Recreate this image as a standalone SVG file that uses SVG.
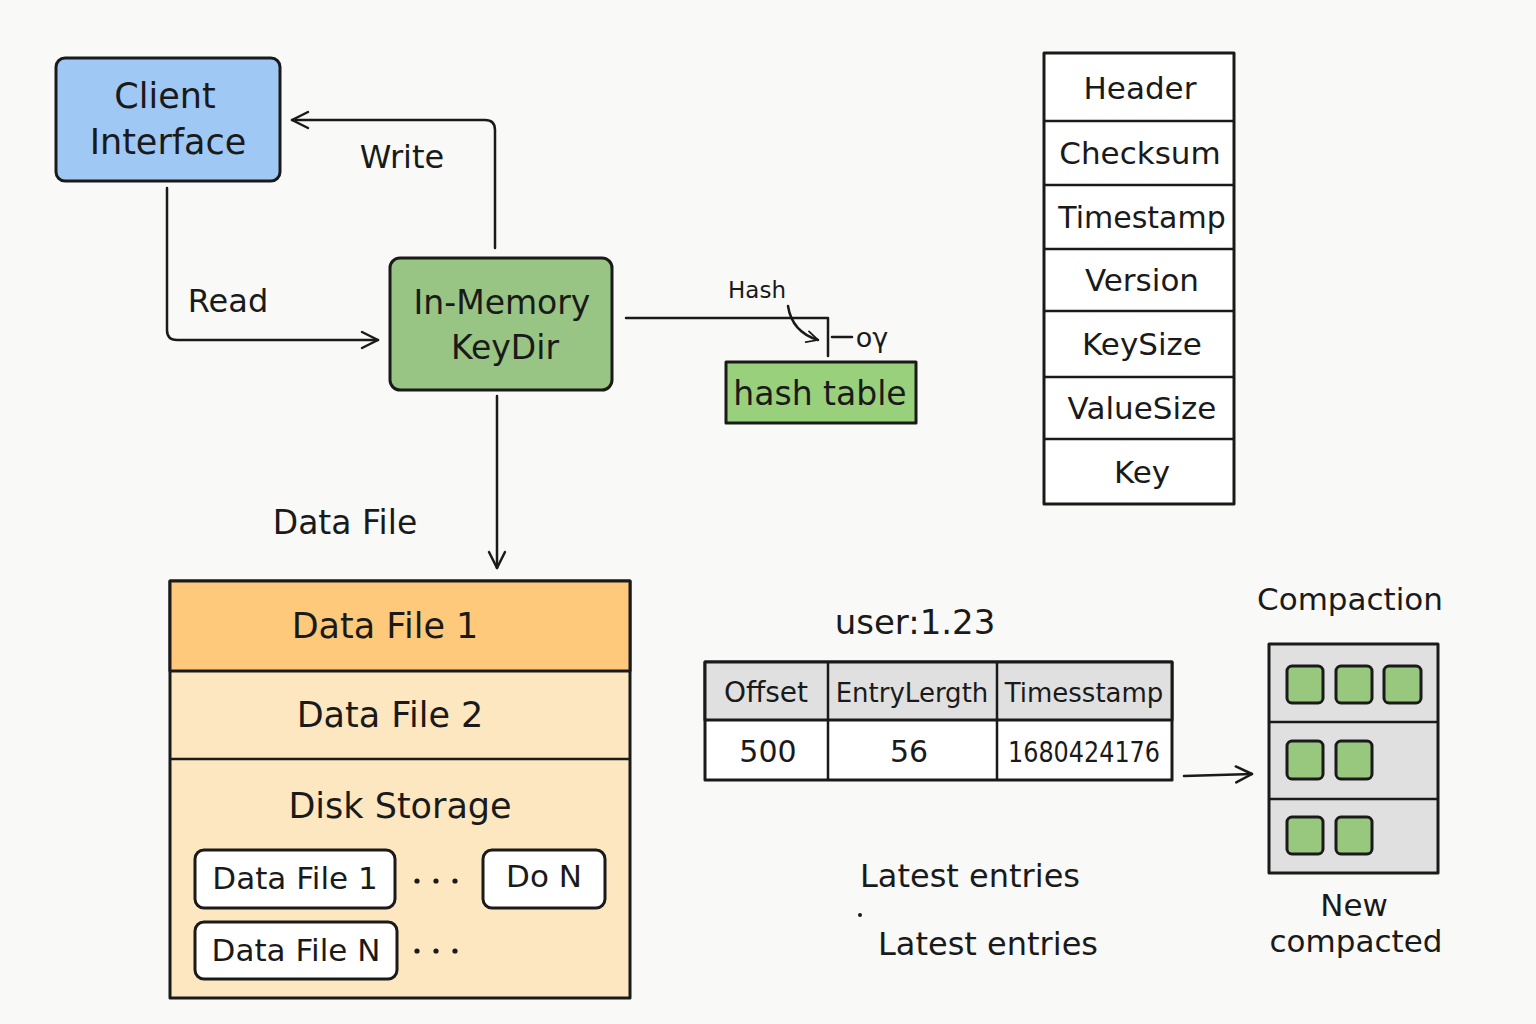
<svg xmlns="http://www.w3.org/2000/svg" width="1536" height="1024" viewBox="0 0 1536 1024">
<defs>
<marker id="ah" viewBox="0 0 20 20" refX="18" refY="10" markerWidth="20" markerHeight="20" markerUnits="userSpaceOnUse" orient="auto">
<path d="M2,2 L18,10 L2,18" fill="none" stroke="#1a1a1a" stroke-width="2.5" stroke-linecap="round" stroke-linejoin="round"/>
</marker>
<marker id="ahs" viewBox="0 0 20 20" refX="18" refY="10" markerWidth="14" markerHeight="14" markerUnits="userSpaceOnUse" orient="auto">
<path d="M2,2 L18,10 L2,18" fill="none" stroke="#1a1a1a" stroke-width="2.5" stroke-linecap="round" stroke-linejoin="round"/>
</marker>
</defs>
<style>
.t{font-family:"DejaVu Sans","Liberation Sans",sans-serif;fill:#1a1a1a;text-anchor:middle}
.b{stroke:#1a1a1a;stroke-width:3;stroke-linejoin:round}
.c{fill:none;stroke:#1a1a1a;stroke-width:2.5;stroke-linecap:round;stroke-linejoin:round}
.l{stroke:#1a1a1a;stroke-width:2.5;fill:none}
.sq{fill:#98c87e;stroke:#1a1a1a;stroke-width:3}
.d{fill:#1a1a1a}
</style>
<rect width="1536" height="1024" fill="#f9f9f7"/>

<g id="connectors">
<path class="c" d="M495,248 L495,130 Q495,120 485,120 L292,120" marker-end="url(#ah)"/>
<path class="c" d="M167,188 L167,330 Q167,340 177,340 L378,340" marker-end="url(#ah)"/>
<path class="c" d="M497,396 L497,568" marker-end="url(#ah)"/>
<path class="c" d="M626,318 L828,318 L828,356"/>
<path class="c" d="M788,306 Q792,332 818,340" marker-end="url(#ahs)"/>
<path class="c" d="M832,337 L852,337"/>
<path class="c" d="M1184,776 L1252,774" marker-end="url(#ah)"/>
</g>

<g id="labels">
<text class="t" x="402" y="168" font-size="32">Write</text>
<text class="t" x="228" y="312" font-size="32">Read</text>
<text class="t" x="345" y="534" font-size="33">Data File</text>
<text class="t" x="757" y="298" font-size="23">Hash</text>
<text class="t" x="872" y="347" font-size="27">oγ</text>
</g>

<g id="client">
<rect class="b" x="56" y="58" width="224" height="123" rx="9" fill="#a0c8f4"/>
<text class="t" x="165" y="108" font-size="35">Client</text>
<text class="t" x="168" y="154" font-size="35">Interface</text>
</g>

<g id="keydir">
<rect class="b" x="390" y="258" width="222" height="132" rx="10" fill="#98c484"/>
<text class="t" x="502" y="314" font-size="33">In-Memory</text>
<text class="t" x="505" y="359" font-size="33">KeyDir</text>
</g>

<g id="hashtable">
<rect class="b" x="726" y="362" width="190" height="61" fill="#98d07c"/>
<text class="t" x="820" y="405" font-size="33">hash table</text>
</g>

<g id="record">
<rect class="b" x="1044" y="53" width="190" height="451" fill="#ffffff"/>
<path class="l" stroke-width="3" d="M1044,121H1234M1044,185H1234M1044,249H1234M1044,311H1234M1044,377H1234M1044,439H1234"/>
<text class="t" x="1140" y="99" font-size="31">Header</text>
<text class="t" x="1140" y="164" font-size="31">Checksum</text>
<text class="t" x="1142" y="228" font-size="30">Timestamp</text>
<text class="t" x="1142" y="291" font-size="31">Version</text>
<text class="t" x="1142" y="355" font-size="31">KeySize</text>
<text class="t" x="1142" y="419" font-size="31">ValueSize</text>
<text class="t" x="1142" y="483" font-size="31">Key</text>
</g>

<g id="disk">
<rect class="b" x="170" y="581" width="460" height="417" fill="#fde7c0"/>
<rect class="b" x="170" y="581" width="460" height="90" fill="#fec97a"/>
<path class="l" stroke-width="3" d="M170,759H630"/>
<text class="t" x="385" y="638" font-size="35">Data File 1</text>
<text class="t" x="390" y="727" font-size="35">Data File 2</text>
<text class="t" x="400" y="818" font-size="35">Disk Storage</text>
<rect class="b" x="195" y="850" width="200" height="58" rx="9" fill="#ffffff"/>
<text class="t" x="295" y="889" font-size="31">Data File 1</text>
<rect class="b" x="483" y="850" width="122" height="58" rx="9" fill="#ffffff"/>
<text class="t" x="544" y="887" font-size="31">Do N</text>
<rect class="b" x="195" y="922" width="202" height="57" rx="9" fill="#ffffff"/>
<text class="t" x="296" y="961" font-size="31">Data File N</text>
<circle class="d" cx="417" cy="881" r="2.6"/><circle class="d" cx="436" cy="881" r="2.6"/><circle class="d" cx="455" cy="881" r="2.6"/>
<circle class="d" cx="417" cy="951" r="2.6"/><circle class="d" cx="436" cy="951" r="2.6"/><circle class="d" cx="455" cy="951" r="2.6"/>
</g>

<g id="entry">
<text class="t" x="915" y="634" font-size="34">user:1.23</text>
<rect class="b" x="705" y="662" width="467" height="118" fill="#ffffff"/>
<rect class="b" x="705" y="662" width="467" height="58" fill="#e0e0e0"/>
<path class="l" stroke-width="3" d="M828,662V780M997,662V780"/>
<text class="t" x="766" y="702" font-size="28">Offset</text>
<text class="t" x="912" y="702" font-size="26">EntryLergth</text>
<text class="t" x="1084" y="702" font-size="26">Timesstamp</text>
<text class="t" x="768" y="762" font-size="30">500</text>
<text class="t" x="909" y="762" font-size="30">56</text>
<text class="t" x="1084" y="762" font-size="28" textLength="152" lengthAdjust="spacingAndGlyphs">1680424176</text>
</g>

<g id="compaction">
<text class="t" x="1350" y="610" font-size="31">Compaction</text>
<rect class="b" x="1269" y="644" width="169" height="229" fill="#e0e0e0"/>
<path class="l" stroke-width="3" d="M1269,722H1438M1269,799H1438"/>
<rect class="sq" x="1287" y="666" width="36" height="37" rx="5"/>
<rect class="sq" x="1336" y="666" width="36" height="37" rx="5"/>
<rect class="sq" x="1384" y="666" width="37" height="37" rx="5"/>
<rect class="sq" x="1287" y="741" width="36" height="38" rx="5"/>
<rect class="sq" x="1336" y="741" width="36" height="38" rx="5"/>
<rect class="sq" x="1287" y="817" width="36" height="37" rx="5"/>
<rect class="sq" x="1336" y="817" width="36" height="37" rx="5"/>
<text class="t" x="1354" y="916" font-size="31">New</text>
<text class="t" x="1356" y="952" font-size="31">compacted</text>
</g>

<g id="latest">
<text class="t" x="970" y="887" font-size="32">Latest entries</text>
<circle cx="860" cy="915" r="2" fill="#1a1a1a"/>
<text class="t" x="988" y="955" font-size="32">Latest entries</text>
</g>
</svg>
